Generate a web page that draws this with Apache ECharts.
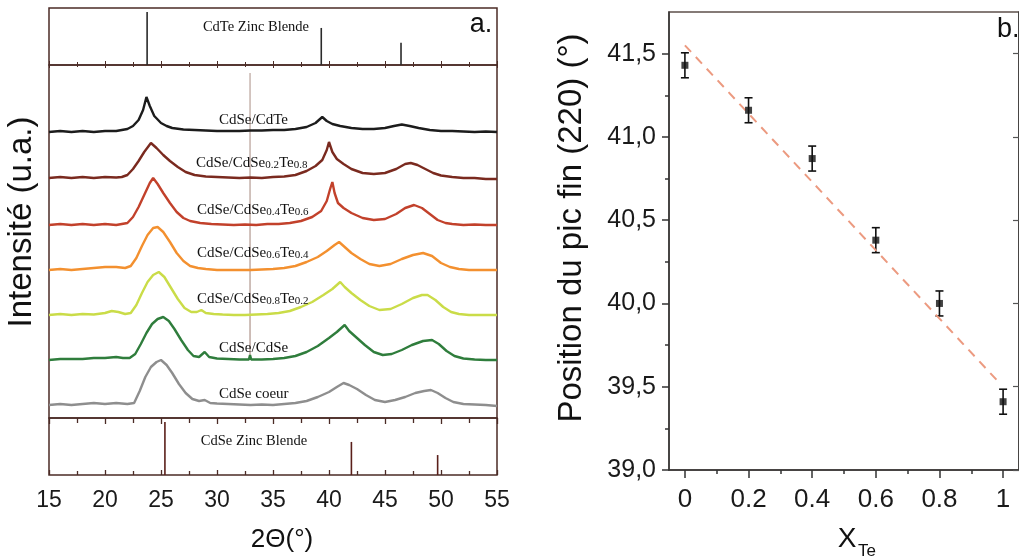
<!DOCTYPE html>
<html>
<head>
<meta charset="utf-8">
<script src="https://cdn.jsdelivr.net/npm/echarts@6/dist/echarts.min.js"></script>
<style>html,body{margin:0;padding:0;background:#fff}#c{width:1019px;height:558px}</style>
</head>
<body>
<div id="c"></div>
<script>
// ---------- DATA ----------
// Reference sticks (2θ, relative intensity)
const cdteRef = [[23.76, 0.93], [39.31, 0.65], [46.43, 0.39]];
const cdseRef = [[25.35, 0.93], [42.0, 0.58], [49.7, 0.35]];

// XRD patterns: [2θ, intensity above own baseline (a.u.)]
const xrdCdSeCdTe = [[15,0],[16,1],[17,0],[18,1],[19,0],[20,1],[21,1],[21.5,2],[22,3],[22.5,6],[23,12],[23.4,22],[23.7,35],[24,26],[24.4,16],[25,9],[25.5,6],[26,4],[27,2.5],[28,2],[29,1.5],[30,1],[31,1],[32,1],[33,1.5],[34,1.5],[35,2],[36,2],[37,3],[38,5],[38.8,9],[39.4,15],[39.8,11],[40.3,8],[41,6],[42,4],[43,3],[44,3],[45,4],[45.8,6],[46.5,7.5],[47.2,6],[48,4],[49,2],[50,1],[51,1],[52,0.5],[53,0],[54,0.5],[55,0]];
const xrdTe08 = [[15,0],[16,1],[17,0],[18,1],[19,0],[20,1],[21,0.5],[21.5,1],[22,3],[22.5,9],[23,17],[23.5,26],[24.1,35],[24.6,30],[25.2,23],[25.8,17],[26.5,11],[27.2,6],[28,3],[29,1.5],[30,1],[31,0.5],[32,0],[33,0.5],[34,0],[35,1],[36,1.5],[37,3],[38,7],[38.8,12],[39.4,18],[39.8,28],[40.0,36],[40.3,26],[40.7,19],[41.3,14],[42,9],[43,5],[44,4],[45,5],[46,9],[46.8,14],[47.3,15],[47.9,13],[48.6,9],[49.3,5],[50,2.5],[51,1],[52,0],[53,0],[54,-1],[55,-1]];
const xrdTe06 = [[15,0],[16,1],[17,0],[18,1],[19,0],[20,1],[21,0],[21.5,1],[22,2],[22.5,8],[23,18],[23.5,30],[24,42],[24.3,47],[24.7,41],[25.2,32],[25.8,22],[26.4,13],[27,7],[27.6,4],[28.5,2],[29.5,1],[30.5,0.5],[31.5,0],[32.5,0.5],[33.5,0],[34.5,1],[35.5,1],[36.5,2],[37.5,4],[38.5,8],[39.3,14],[39.8,24],[40.1,36],[40.3,43],[40.5,32],[40.8,22],[41.3,17],[42,12],[43,7],[44,5],[45,6],[46,11],[46.8,17],[47.6,20],[48.3,17],[49,11],[49.7,5],[50.4,2],[51,1],[52,0],[53,0.5],[54,0],[55,0]];
const xrdTe04 = [[15,0],[16,1],[17,0],[18,1],[19,2],[20,3],[21,3],[21.8,2],[22.3,4],[22.8,12],[23.3,24],[23.8,35],[24.3,42],[24.7,43],[25.2,38],[25.8,28],[26.4,17],[27,9],[27.6,4],[28.3,2],[29,1],[30,0],[31,0],[32,0],[33,0],[34,0.5],[35,1],[36,2],[37,4],[38,8],[39,13],[39.8,19],[40.5,25],[40.9,28],[41.4,23],[42,17],[42.8,11],[43.6,6],[44.5,4],[45.5,6],[46.5,11],[47.5,15],[48.4,17],[49.2,14],[50,7],[50.8,3],[51.6,1],[52.5,0],[53.5,0],[54.5,0],[55,0]];
const xrdTe02 = [[15,0],[16,1],[17,0],[18,1],[19,0.5],[20,2],[20.6,4],[21.2,3],[21.8,1],[22.3,2],[22.8,10],[23.3,22],[23.8,33],[24.3,40],[24.8,43],[25.3,38],[25.9,27],[26.5,16],[27.1,7],[27.7,3],[28.2,3],[28.6,5],[29,2],[29.7,1],[30.5,0.5],[31.5,0],[32.5,0],[33.5,0.5],[34.5,1],[35.5,2],[36.5,4],[37.5,8],[38.5,13],[39.5,20],[40.3,26],[41,33],[41.4,28],[42,22],[42.8,15],[43.6,9],[44.5,5],[45.5,6],[46.5,11],[47.5,17],[48.3,20],[48.8,20],[49.5,15],[50.2,8],[50.9,3],[51.6,1],[52.5,0],[53.5,0],[54.5,0],[55,0]];
const xrdCdSeCdSe = [[15,0],[16,1],[17,1],[18,1],[19,2],[20,2],[21,3],[21.6,2],[22.2,2],[22.7,6],[23.2,16],[23.7,27],[24.2,36],[24.7,41],[25.2,43],[25.7,39],[26.2,31],[26.8,20],[27.4,10],[27.9,4],[28.4,3],[28.9,8],[29.3,3],[30,1.5],[31,1],[32,0.5],[32.85,0.5],[32.95,5],[33.05,0.5],[34,0.5],[35,1],[36,2],[37,4],[38,8],[39,14],[40,22],[40.7,28],[41.4,35],[41.8,29],[42.4,23],[43.2,15],[44,8],[44.8,5],[45.6,6],[46.5,10],[47.4,15],[48.4,19],[49.2,20],[49.8,16],[50.5,9],[51.2,4],[52,1.5],[53,0.5],[54,0],[55,0]];
// narrow artefact spike of the CdSe/CdSe pattern at 2θ ≈ 32.95°
const spikeCdSeCdSe = [[32.94, 0], [32.95, 287], [32.96, 0]];
const xrdCore = [[15,0],[16,1],[17,0],[18,1],[19,2],[20,1],[21,2],[22,1],[22.6,2],[23.1,14],[23.6,28],[24.1,38],[24.6,43],[25.0,45],[25.5,40],[26,32],[26.6,21],[27.2,12],[27.8,6],[28.4,4],[28.9,5],[29.4,2],[30,1.5],[31,1],[32,0.5],[33,0],[34,0.5],[35,0],[36,1],[37,2],[38,4],[39,8],[40,13],[40.7,18],[41.3,22],[41.8,20],[42.5,16],[43.3,10],[44.1,5],[45,3],[45.9,5],[46.8,8],[47.7,12],[48.5,14],[49.1,15],[49.7,12],[50.4,7],[51.1,3],[52,1],[53,0.5],[54,0],[55,-1]];

const xrdSets = [xrdCdSeCdTe, xrdTe08, xrdTe06, xrdTe04, xrdTe02, xrdCdSeCdSe, xrdCore];
const xrdOffsets = [286, 240, 193, 148, 103, 58, 13];
const xrdNames = ['CdSe/CdTe', 'CdSe/CdSe{s|0.2}Te{s|0.8}', 'CdSe/CdSe{s|0.4}Te{s|0.6}', 'CdSe/CdSe{s|0.6}Te{s|0.4}', 'CdSe/CdSe{s|0.8}Te{s|0.2}', 'CdSe/CdSe', 'CdSe coeur'];
const xrdColors = ['#1c1c1c', '#7a2a1f', '#c2412b', '#f3902f', '#cadc48', '#2f7d3c', '#8e8e8e'];
const twoThetaTicks = [15, 20, 25, 30, 35, 40, 45, 50, 55];

// Panel b
const xTe = [0, 0.2, 0.4, 0.6, 0.8, 1];
const peakPos = [41.43, 41.16, 40.87, 40.38, 40.00, 39.41];
const peakErr = [0.075, 0.075, 0.075, 0.075, 0.075, 0.075];
const fitX = [0, 0.985];
const fitY = [41.55, 39.53];
const xTeMajor = [0, 0.2, 0.4, 0.6, 0.8, 1];
const xTeMinor = [0.1, 0.3, 0.5, 0.7, 0.9];
const posMajor = [39, 39.5, 40, 40.5, 41, 41.5];
const posMinor = [39.25, 39.75, 40.25, 40.75, 41.25];

// ---------- CHART ----------
const frameL = '#4b2b26';
const frameR = '#5e504b';
const sans = '"Liberation Sans", Arial, sans-serif';
const serif = '"Liberation Serif", "Times New Roman", serif';

const chart = echarts.init(document.getElementById('c'), null, {renderer: 'canvas'});

const series = [];
series.push({type: 'bar', xAxisIndex: 0, yAxisIndex: 0, data: cdteRef, barWidth: 1.6, itemStyle: {color: '#2a2a2a'}, silent: true});
series.push({type: 'bar', xAxisIndex: 2, yAxisIndex: 2, data: cdseRef, barWidth: 1.6, itemStyle: {color: '#5a1f1a'}, silent: true});
series.push({
  type: 'line', xAxisIndex: 1, yAxisIndex: 1, showSymbol: false, silent: true, z: 1,
  data: spikeCdSeCdSe.map(p => [p[0], p[1] + xrdOffsets[5]]),
  lineStyle: {color: '#b9a29a', width: 1.2}
});
xrdSets.forEach((set, i) => {
  series.push({
    type: 'line', xAxisIndex: 1, yAxisIndex: 1, showSymbol: false, silent: true,
    data: set.map(p => [p[0], p[1] + xrdOffsets[i]]),
    lineStyle: {color: xrdColors[i], width: 2.4}, z: 3
  });
});
// Panel b: fit, error bars, points
series.push({
  type: 'line', xAxisIndex: 4, yAxisIndex: 3, showSymbol: false, silent: true,
  data: fitX.map((x, i) => [x, fitY[i]]),
  lineStyle: {color: '#ec9a80', width: 2, type: [9, 7]}
});
series.push({
  type: 'custom', xAxisIndex: 4, yAxisIndex: 3, silent: true,
  data: xTe.map((x, i) => [x, peakPos[i], peakErr[i]]),
  renderItem: function (params, api) {
    const x = api.value(0), y = api.value(1), e = api.value(2);
    const t = api.coord([x, y + e]);
    const b = api.coord([x, y - e]);
    const st = {stroke: '#111', lineWidth: 1.6};
    return {type: 'group', children: [
      {type: 'line', shape: {x1: t[0], y1: t[1], x2: b[0], y2: b[1]}, style: st},
      {type: 'line', shape: {x1: t[0] - 4, y1: t[1], x2: t[0] + 4, y2: t[1]}, style: st},
      {type: 'line', shape: {x1: b[0] - 4, y1: b[1], x2: b[0] + 4, y2: b[1]}, style: st}
    ]};
  }
});
series.push({
  type: 'scatter', xAxisIndex: 4, yAxisIndex: 3, silent: true,
  data: xTe.map((x, i) => [x, peakPos[i]]),
  symbol: 'rect', symbolSize: 7, itemStyle: {color: '#111'}, z: 5
});

const graphics = [];
const labelPos = [[219, 120], [196, 163], [197, 210], [197, 253], [197, 299], [219, 348], [219, 394]];
xrdNames.forEach((n, i) => {
  graphics.push({type: 'text', x: labelPos[i][0], y: labelPos[i][1], silent: true, z: 10,
    style: {text: n, fontFamily: serif, fontSize: 15, fill: '#111', verticalAlign: 'middle', textVerticalAlign: 'middle',
      rich: {s: {fontFamily: serif, fontSize: 11, fill: '#111', verticalAlign: 'bottom'}}}});
});
const ctr = {align: 'center', verticalAlign: 'middle', textAlign: 'center', textVerticalAlign: 'middle'};
graphics.push({type: 'text', x: 256, y: 27, style: Object.assign({text: 'CdTe Zinc Blende', fontFamily: serif, fontSize: 14.5, fill: '#111'}, ctr)});
graphics.push({type: 'text', x: 254, y: 441, style: Object.assign({text: 'CdSe Zinc Blende', fontFamily: serif, fontSize: 14.5, fill: '#111'}, ctr)});
graphics.push({type: 'text', x: 481, y: 25, style: Object.assign({text: 'a.', fontFamily: sans, fontSize: 27, fill: '#111'}, ctr)});
graphics.push({type: 'text', x: 997, y: 30, style: {text: 'b.', fontFamily: sans, fontSize: 27, fill: '#111', align: 'left', verticalAlign: 'middle', textAlign: 'left', textVerticalAlign: 'middle'}});
graphics.push({type: 'text', x: 22, y: 222, rotation: Math.PI / 2, style: Object.assign({text: 'Intensité (u.a.)', fontFamily: sans, fontSize: 33, fill: '#111'}, ctr)});
graphics.push({type: 'text', x: 572, y: 228, rotation: Math.PI / 2, style: Object.assign({text: 'Position du pic fin (220) (°)', fontFamily: sans, fontSize: 33, fill: '#111'}, ctr)});
graphics.push({type: 'text', x: 282, y: 540, style: Object.assign({text: '2Θ(°)', fontFamily: sans, fontSize: 26, fill: '#111'}, ctr)});
graphics.push({type: 'text', x: 847, y: 539, style: Object.assign({text: 'X', fontFamily: sans, fontSize: 28, fill: '#111'}, ctr)});
graphics.push({type: 'text', x: 867, y: 551, style: Object.assign({text: 'Te', fontFamily: sans, fontSize: 17, fill: '#111'}, ctr)});

const lblStyle = {fontFamily: sans, color: '#1a1a1a'};

const option = {
  animation: false,
  backgroundColor: '#ffffff',
  grid: [
    {left: 49, top: 8, width: 448, height: 57, show: true, borderColor: frameL, borderWidth: 1.5},
    {left: 49, top: 65, width: 448, height: 353, show: true, borderColor: frameL, borderWidth: 1.5},
    {left: 49, top: 418, width: 448, height: 57, show: true, borderColor: frameL, borderWidth: 1.5},
    {left: 669, top: 12, width: 354, height: 458, show: true, borderColor: frameR, borderWidth: 1.5}
  ],
  xAxis: [
    {gridIndex: 0, type: 'value', min: 15, max: 55, interval: 5, position: 'bottom',
      axisLine: {show: false, onZero: false}, axisLabel: {show: false}, splitLine: {show: false},
      axisTick: {inside: true, length: 4, lineStyle: {color: frameL}}, minorTick: {show: true, splitNumber: 2, length: 3, lineStyle: {color: frameL}}},
    {gridIndex: 1, type: 'value', min: 15, max: 55, interval: 5, position: 'top',
      axisLine: {show: false, onZero: false}, axisLabel: {show: false}, splitLine: {show: false},
      axisTick: {inside: true, length: 3, lineStyle: {color: frameL}}, minorTick: {show: true, splitNumber: 2, length: 2, lineStyle: {color: frameL}}},
    {gridIndex: 2, type: 'value', min: 15, max: 55, interval: 5, position: 'bottom',
      axisLine: {show: false, onZero: false}, splitLine: {show: false},
      axisLabel: Object.assign({show: true, fontSize: 23, margin: 14,
        customValues: twoThetaTicks}, lblStyle),
      axisTick: {inside: true, length: 5, lineStyle: {color: frameL, width: 1.3}}, minorTick: {show: true, splitNumber: 2, length: 4, lineStyle: {color: frameL, width: 1.3}}},
    {gridIndex: 2, type: 'value', min: 15, max: 55, interval: 5, position: 'top',
      axisLine: {show: false, onZero: false}, axisLabel: {show: false}, splitLine: {show: false},
      axisTick: {inside: true, length: 6, lineStyle: {color: frameL, width: 1.3}}, minorTick: {show: true, splitNumber: 2, length: 5, lineStyle: {color: frameL, width: 1.3}}},
    {gridIndex: 3, type: 'value', min: -0.05, max: 1.05, position: 'bottom',
      axisLine: {show: true, onZero: false, lineStyle: {color: '#333', width: 1.5}}, splitLine: {show: false},
      axisTick: {show: true, inside: false, length: 8, customValues: xTeMajor, lineStyle: {color: '#333', width: 1.5}},
      axisLabel: Object.assign({show: true, fontSize: 26, margin: 17, customValues: xTeMajor,
        formatter: v => String(+v.toFixed(1))}, lblStyle)},
    {gridIndex: 3, type: 'value', min: -0.05, max: 1.05, position: 'bottom',
      axisLine: {show: false, onZero: false}, splitLine: {show: false}, axisLabel: {show: false},
      axisTick: {show: true, inside: false, length: 4, customValues: xTeMinor, lineStyle: {color: '#333', width: 1.5}}}
  ],
  yAxis: [
    {gridIndex: 0, type: 'value', min: 0, max: 1, show: false},
    {gridIndex: 1, type: 'value', min: 0, max: 353, show: false},
    {gridIndex: 2, type: 'value', min: 0, max: 1, show: false},
    {gridIndex: 3, type: 'value', min: 39, max: 41.75, position: 'left',
      axisLine: {show: true, onZero: false, lineStyle: {color: '#333', width: 1.5}}, splitLine: {show: false},
      axisTick: {show: true, inside: false, length: 7, customValues: posMajor, lineStyle: {color: '#333', width: 1.5}},
      axisLabel: Object.assign({show: true, fontSize: 25, margin: 13, customValues: posMajor,
        formatter: v => v.toFixed(1).replace('.', ',')}, lblStyle)},
    {gridIndex: 3, type: 'value', min: 39, max: 41.75, position: 'left',
      axisLine: {show: false, onZero: false}, splitLine: {show: false}, axisLabel: {show: false},
      axisTick: {show: true, inside: false, length: 4, customValues: posMinor, lineStyle: {color: '#333', width: 1.5}}},
    {gridIndex: 3, type: 'value', min: 39, max: 41.75, position: 'right',
      axisLine: {show: true, onZero: false, lineStyle: {color: '#333', width: 1.5}}, splitLine: {show: false}, axisLabel: {show: false},
      axisTick: {show: true, inside: true, length: 6, customValues: posMajor, lineStyle: {color: '#555', width: 1.2}}}
  ],
  series: series,
  graphic: graphics
};
chart.setOption(option);
</script>
</body>
</html>
